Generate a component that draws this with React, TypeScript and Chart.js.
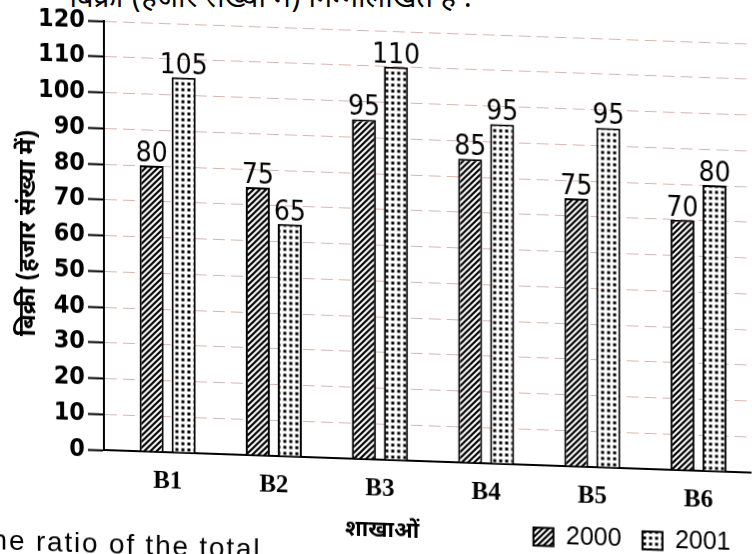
import React, { useEffect, useRef } from "react";
import { Chart, registerables } from "chart.js";

Chart.register(...registerables);

// ---- data ----
const categories = ["B1", "B2", "B3", "B4", "B5", "B6"];
const sales2000 = [80, 75, 95, 85, 75, 70];
const sales2001 = [105, 65, 110, 95, 95, 80];
const seriesLabels = ["2000", "2001"];
const yMin = 0;
const yMax = 120;
const yStep = 10;
const yAxisTitle = "बिक्री (हजार संख्या में)";
const xAxisTitle = "शाखाओं";
const headerText = "बिक्री (हजार संख्या में) निम्नलिखित है :";
const footerText = "the ratio of the total";

const DEVA = "'Noto Sans Devanagari', 'Noto Sans', 'Lohit Devanagari', 'FreeSans', sans-serif";
const NARROW = "'Liberation Sans Narrow', 'DejaVu Sans Condensed', 'Liberation Sans', sans-serif";

function makeHatch(ctx: CanvasRenderingContext2D) {
  const c = document.createElement("canvas");
  c.width = 6;
  c.height = 6;
  const g = c.getContext("2d")!;
  g.fillStyle = "#fff";
  g.fillRect(0, 0, 6, 6);
  g.strokeStyle = "#000";
  g.lineWidth = 2.2;
  g.beginPath();
  g.moveTo(0, 6);
  g.lineTo(6, 0);
  g.moveTo(-1, 1);
  g.lineTo(1, -1);
  g.moveTo(5, 7);
  g.lineTo(7, 5);
  g.stroke();
  return ctx.createPattern(c, "repeat")!;
}

function makeDots(ctx: CanvasRenderingContext2D) {
  const c = document.createElement("canvas");
  c.width = 6;
  c.height = 6;
  const g = c.getContext("2d")!;
  g.fillStyle = "#fff";
  g.fillRect(0, 0, 6, 6);
  g.fillStyle = "#000";
  g.fillRect(1.5, 1.5, 3, 3);
  return ctx.createPattern(c, "repeat")!;
}

const valueLabels = {
  id: "valueLabels",
  afterDatasetsDraw(chart: any) {
    const { ctx } = chart;
    ctx.save();
    ctx.font = `28px ${NARROW}`;
    ctx.fillStyle = "#000";
    ctx.textAlign = "center";
    ctx.textBaseline = "alphabetic";
    chart.data.datasets.forEach((ds: any, di: number) => {
      const meta = chart.getDatasetMeta(di);
      meta.data.forEach((el: any, i: number) => {
        const v = ds.data[i].y;
        ctx.fillText(String(v), el.x, el.y - 4);
      });
    });
    ctx.restore();
  },
};

export default function App() {
  const ref = useRef<HTMLCanvasElement | null>(null);

  useEffect(() => {
    const canvas = ref.current!;
    const ctx = canvas.getContext("2d")!;
    const hatch = makeHatch(ctx);
    const dots = makeDots(ctx);

    const chart = new Chart(ctx, {
      type: "bar",
      data: {
        datasets: [
          {
            label: seriesLabels[0],
            data: sales2000.map((v, i) => ({ x: i, y: v })),
            backgroundColor: hatch,
            borderColor: "#000",
            borderWidth: 2,
            categoryPercentage: 0.603,
            barPercentage: 0.75,
          },
          {
            label: seriesLabels[1],
            data: sales2001.map((v, i) => ({ x: i, y: v })),
            backgroundColor: dots,
            borderColor: "#000",
            borderWidth: 2,
            categoryPercentage: 0.603,
            barPercentage: 0.75,
          },
        ],
      },
      options: {
        animation: false,
        responsive: false,
        maintainAspectRatio: false,
        layout: { padding: { top: 21, bottom: 10, left: 0, right: 0 } },
        plugins: {
          tooltip: { enabled: false },
          legend: {
            display: true,
            position: "bottom",
            align: "end",
            labels: {
              color: "#000",
              font: { family: "'Liberation Sans', Arial, sans-serif", size: 25 },
              boxWidth: 20,
              boxHeight: 18,
              padding: 21,
            },
          },
        },
        scales: {
          x: {
            type: "linear",
            min: -0.6,
            max: 5.5,
            offset: false,
            afterBuildTicks: (scale: any) => {
              scale.ticks = categories.map((_, i) => ({ value: i }));
            },
            afterFit: (scale: any) => {
              scale.height = 38;
            },
            grid: { display: false },
            border: { display: true, color: "#000", width: 2 },
            ticks: {
              autoSkip: false,
              maxRotation: 0,
              padding: 9,
              color: "#000",
              font: { family: "'Liberation Serif', 'DejaVu Serif', serif", size: 25, weight: "bold", lineHeight: 1 },
              callback: (v: any) => categories[v as number] ?? "",
            },
          },
          y: {
            min: yMin,
            max: yMax,
            afterFit: (scale: any) => {
              scale.width = 104;
            },
            ticks: {
              stepSize: yStep,
              padding: 3,
              color: "#000",
              font: { family: NARROW, size: 25, weight: "bold" },
            },
            grid: {
              color: "rgba(175, 90, 75, 0.45)",
              lineWidth: 1,
              tickColor: "#000",
              tickLength: 16,
              tickWidth: 2,
            },
            border: { display: true, color: "#000", width: 2, dash: [12, 6] },
            title: {
              display: true,
              text: yAxisTitle,
              color: "#000",
              font: { family: DEVA, size: 24, weight: "bold" },
              padding: { top: 16, bottom: 0 },
            },
          },
        },
      },
      plugins: [valueLabels],
    } as any);

    return () => chart.destroy();
  }, []);

  return (
    <div
      style={{
        position: "fixed",
        left: 0,
        top: 0,
        width: 752,
        height: 554,
        overflow: "hidden",
        background: "#fff",
      }}
    >
      <div
        style={{
          position: "absolute",
          left: 0,
          top: -18,
          width: 472,
          textAlign: "right",
          font: `29px ${DEVA}`,
          lineHeight: "36px",
          color: "#000",
          whiteSpace: "nowrap",
        }}
      >
        {headerText}
      </div>
      <div
        style={{
          position: "absolute",
          left: 0,
          top: 0,
          width: 752,
          height: 554,
          transform: "skewY(2deg)",
          transformOrigin: "104px 450px",
        }}
      >
        <canvas ref={ref} width={752} height={554} style={{ display: "block", width: 752, height: 554 }} />
        <div
          style={{
            position: "absolute",
            left: 345,
            top: 508,
            font: `bold 22px ${DEVA}`,
            lineHeight: "28px",
            color: "#000",
            whiteSpace: "nowrap",
          }}
        >
          {xAxisTitle}
        </div>
        <div
          style={{
            position: "absolute",
            left: -18,
            top: 528,
            font: "28px 'Liberation Sans', Arial, sans-serif",
            lineHeight: "32px",
            color: "#000",
            whiteSpace: "nowrap",
            letterSpacing: "1.8px",
          }}
        >
          {footerText}
        </div>
      </div>
    </div>
  );
}
